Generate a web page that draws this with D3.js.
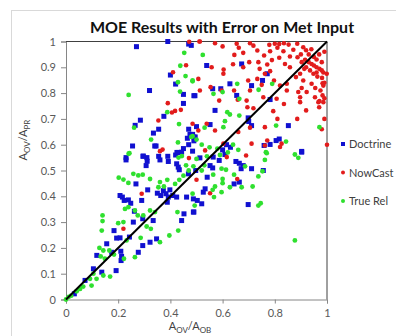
<!DOCTYPE html>
<html>
<head>
<meta charset="utf-8">
<script src="https://cdn.jsdelivr.net/npm/d3@7"></script>
<style>
  body { margin: 0; background: #fff; }
  svg { display: block; font-family: Lato, "Open Sans", sans-serif; }
</style>
</head>
<body>
<div id="chart"></div>
<script>
// ticks
var xTicks = [0, 0.2, 0.4, 0.6, 0.8, 1];
var yTicks = [0, 0.1, 0.2, 0.3, 0.4, 0.5, 0.6, 0.7, 0.8, 0.9, 1];
var seriesNames = ["Doctrine", "NowCast", "True Rel"];

// Doctrine (blue squares) [A_OV/A_OB, A_OV/A_PR]
var doctrine = [
  [0.27,0.98],[0.39,1.0],[0.32,0.81],[0.47,0.99],[0.48,0.985],[0.40,0.87],[0.42,0.835],[0.45,0.795],
  [0.49,0.79],[0.45,0.76],[0.375,0.71],[0.285,0.695],[0.265,0.675],[0.355,0.66],[0.335,0.645],[0.47,0.66],
  [0.50,0.67],[0.475,0.64],[0.485,0.64],[0.495,0.63],[0.465,0.625],[0.49,0.615],[0.255,0.595],[0.34,0.595],
  [0.345,0.595],[0.47,0.60],[0.43,0.57],[0.45,0.585],[0.23,0.55],[0.295,0.555],[0.31,0.55],[0.355,0.555],
  [0.39,0.555],[0.42,0.56],[0.485,0.575],
  [0.673,0.913],[0.539,0.907],[0.771,0.875],[0.753,0.849],[0.711,0.829],[0.628,0.836],[0.593,0.817],
  [0.562,0.817],[0.494,0.79],[0.654,0.791],[0.782,0.775],[0.571,0.733],[0.698,0.704],[0.711,0.674],
  [0.70,0.69],[0.552,0.678],[0.852,0.674],[0.817,0.622],[0.805,0.616],[0.782,0.601],[0.759,0.597],
  [0.903,0.574],[0.63,0.59],[0.615,0.60],[0.60,0.58],[0.49,0.63],
  [0.23,0.541],[0.296,0.556],[0.311,0.536],[0.307,0.519],[0.36,0.541],[0.392,0.535],[0.424,0.526],
  [0.43,0.513],[0.434,0.503],[0.469,0.487],[0.497,0.50],[0.425,0.57],[0.443,0.571],[0.268,0.448],
  [0.313,0.425],[0.207,0.403],[0.216,0.397],[0.223,0.384],[0.239,0.386],[0.248,0.373],[0.262,0.342],
  [0.29,0.384],[0.35,0.412],[0.363,0.403],[0.373,0.422],[0.383,0.41],[0.392,0.397],[0.398,0.425],
  [0.409,0.403],[0.424,0.397],[0.388,0.377],[0.462,0.397],[0.488,0.39],[0.258,0.30],[0.294,0.313],
  [0.334,0.306],[0.443,0.306],[0.452,0.332],[0.488,0.339],[0.184,0.267],[0.207,0.239],[0.194,0.238],
  [0.243,0.242],[0.347,0.235],[0.294,0.209],[0.277,0.183],[0.322,0.222],[0.156,0.216],[0.175,0.183],
  [0.118,0.171],[0.21,0.187],[0.213,0.167],[0.211,0.151],[0.105,0.119],[0.192,0.112],[0.137,0.106],
  [0.073,0.074],[0.032,0.022],
  [0.651,0.535],[0.664,0.528],[0.671,0.507],[0.609,0.562],[0.564,0.552],[0.513,0.549],[0.552,0.519],
  [0.562,0.51],[0.587,0.539],[0.711,0.507],[0.756,0.50],[0.679,0.519],[0.644,0.448],[0.664,0.455],
  [0.541,0.474],[0.533,0.429],[0.526,0.416],[0.503,0.384],[0.52,0.371],[0.49,0.339],[0.698,0.368],
  [0.903,0.571]
];

// NowCast (red circles)
var nowcast = [
  [0.472,0.999],[0.511,1.0],[0.46,0.908],[0.41,0.881],[0.39,0.761],[0.44,0.735],[0.418,0.731],[0.406,0.725],
  [0.354,0.694],[0.37,0.581],[0.471,0.548],
  [0.513,1.0],[0.571,0.993],[0.60,0.981],[0.654,0.991],[0.662,0.976],[0.705,0.993],[0.718,0.984],
  [0.733,0.965],[0.679,0.956],[0.645,0.948],[0.64,0.912],[0.779,0.987],[0.80,0.991],[0.817,0.99],
  [0.835,0.993],[0.853,0.988],[0.886,0.991],[0.909,0.978],[0.92,0.966],[0.81,0.976],[0.782,0.962],
  [0.759,0.946],[0.833,0.962],[0.871,0.968],[0.858,0.942],[0.887,0.939],[0.817,0.937],[0.789,0.928],
  [0.737,0.92],[0.702,0.92],[0.771,0.911],[0.679,0.90],[0.742,0.894],[0.839,0.913],[0.858,0.90],
  [0.903,0.92],[0.916,0.929],[0.93,0.92],[0.941,0.913],[0.95,0.907],[0.96,0.90],[0.971,0.894],
  [0.98,0.888],[0.986,0.88],[0.999,0.875],[0.935,0.888],[0.948,0.875],[0.963,0.864],[0.981,0.859],
  [0.913,0.894],[0.897,0.875],[0.881,0.862],[0.983,0.838],[0.782,0.885],[0.762,0.875],[0.733,0.855],
  [0.698,0.849],[0.75,0.832],[0.797,0.849],[0.82,0.829],[0.846,0.81],[0.903,0.82],[0.756,0.784],
  [0.705,0.81],[0.692,0.771],[0.718,0.741],[0.807,0.778],[0.835,0.758],[0.92,0.733],[0.967,0.765],
  [0.886,0.70],[0.81,0.70],[0.794,0.73],[0.644,0.81],[0.658,0.774],[0.695,0.745],[0.596,0.81],
  [0.554,0.823],[0.587,0.771],[0.513,0.81],[0.507,0.855],[0.603,0.875],[0.558,0.90],[0.507,0.655],
  [0.485,0.681],[0.539,0.681],[0.571,0.655],[0.66,0.649],[0.705,0.666],[0.762,0.668],[0.826,0.604],
  [0.82,0.591],[0.762,0.597],[0.771,0.616],[0.711,0.604],[0.603,0.604],[0.533,0.578],[0.616,0.552],
  [0.897,0.784],[0.897,0.765],
  [0.986,0.765],[0.971,0.769],[0.983,0.791],[0.954,0.784],[0.922,0.804],[0.89,0.804],[0.941,0.836],
  [0.986,0.829],[0.909,0.849],[0.846,0.836],
  [0.95,0.94],[0.96,0.93],[0.97,0.95],[0.93,0.95],[0.98,0.92],[0.99,0.96],[0.94,0.97],[0.90,0.95],
  [0.92,0.90],[0.96,0.88],[0.99,0.84],[0.975,0.81],[0.99,0.78],[0.955,0.82],[0.97,0.745],[0.99,0.70],
  [0.98,0.66],[1.0,0.6],
  [0.29,0.41],[0.22,0.274],[0.50,0.464],[0.36,0.575],[0.552,0.412],[0.656,0.467],[0.69,0.558],[0.604,0.891]
];

// True Rel (green circles)
var trueRel = [
  [0.453,0.956],[0.438,0.906],[0.458,0.866],[0.485,0.846],[0.429,0.842],[0.24,0.793],[0.437,0.806],
  [0.388,0.726],[0.433,0.68],[0.261,0.666],[0.485,0.633],[0.326,0.62],[0.429,0.609],[0.24,0.565],
  [0.431,0.55],[0.444,0.556],
  [0.524,0.948],[0.485,0.849],[0.79,0.836],[0.656,0.836],[0.60,0.804],[0.565,0.797],[0.738,0.813],
  [0.664,0.778],[0.618,0.726],[0.628,0.717],[0.664,0.713],[0.609,0.691],[0.603,0.668],[0.531,0.666],
  [0.805,0.674],[0.971,0.668],[0.843,0.612],[0.877,0.562],[0.766,0.571],[0.48,0.63],[0.50,0.62],
  [0.52,0.60],[0.55,0.59],[0.58,0.585],[0.64,0.60],[0.66,0.58],
  [0.243,0.567],[0.202,0.472],[0.22,0.465],[0.239,0.452],[0.258,0.487],[0.277,0.481],[0.294,0.484],
  [0.322,0.467],[0.36,0.455],[0.375,0.438],[0.354,0.435],[0.418,0.448],[0.434,0.464],[0.388,0.464],
  [0.239,0.358],[0.226,0.351],[0.264,0.345],[0.275,0.326],[0.296,0.326],[0.322,0.345],[0.341,0.339],
  [0.14,0.326],[0.14,0.304],[0.137,0.267],[0.20,0.296],[0.22,0.30],[0.309,0.283],[0.325,0.274],
  [0.286,0.239],[0.36,0.222],[0.396,0.248],[0.43,0.267],[0.427,0.339],[0.128,0.20],[0.143,0.19],
  [0.133,0.167],[0.149,0.158],[0.166,0.19],[0.184,0.174],[0.222,0.158],[0.264,0.164],[0.232,0.229],
  [0.105,0.10],[0.092,0.08],[0.117,0.08],[0.143,0.093],[0.169,0.089],[0.066,0.05],[0.054,0.041],
  [0.041,0.032],[0.098,0.054],[0.0,0.0],[0.01,0.01],[0.02,0.015],
  [0.488,0.516],[0.596,0.507],[0.613,0.503],[0.644,0.484],[0.564,0.484],[0.686,0.516],[0.60,0.467],
  [0.60,0.451],[0.737,0.477],[0.753,0.497],[0.762,0.541],[0.769,0.567],[0.89,0.549],[0.715,0.438],
  [0.673,0.435],[0.628,0.435],[0.571,0.438],[0.562,0.425],[0.596,0.416],[0.485,0.41],[0.567,0.397],
  [0.493,0.364],[0.737,0.364],[0.746,0.373],[0.877,0.229],
  [0.62,0.57],[0.59,0.56],[0.54,0.555],[0.50,0.545],[0.46,0.52],[0.47,0.50],[0.45,0.48],[0.52,0.50],[0.53,0.52]
];

var colors = { "Doctrine": "#1010d0", "NowCast": "#e21c1c", "True Rel": "#2fe02f" };

var W = 396, H = 336;
var margin = { top: 41.5, left: 66, right: 69, bottom: 36.5 };
var width = W - margin.left - margin.right,
    height = H - margin.top - margin.bottom;

var svg = d3.select("#chart").append("svg")
    .attr("width", W).attr("height", H);

// outer chart border
svg.append("rect")
    .attr("x", 11.5).attr("y", 10.5).attr("width", 420).attr("height", 400)
    .attr("fill", "#fff").attr("stroke", "#d9d9d9");

svg.append("text")
    .attr("x", 222).attr("y", 33)
    .attr("text-anchor", "middle")
    .style("font-weight", "bold").style("font-size", "16px").style("fill", "#111")
    .text("MOE Results with Error on Met Input");

var g = svg.append("g").attr("transform", "translate(" + margin.left + "," + margin.top + ")");

var x = d3.scaleLinear().domain([0, 1]).range([0, width]);
var y = d3.scaleLinear().domain([0, 1]).range([height, 0]);

// x axis
var xAxis = g.append("g")
    .attr("transform", "translate(0," + height + ")")
    .call(d3.axisBottom(x).tickValues(xTicks).tickSize(4).tickPadding(6).tickFormat(d3.format("")));
// y axis
var yAxis = g.append("g")
    .call(d3.axisLeft(y).tickValues(yTicks).tickSize(5).tickPadding(5).tickFormat(d3.format("")));

[xAxis, yAxis].forEach(function (a) {
    a.select(".domain").attr("stroke", "#868686");
    a.selectAll(".tick line").attr("stroke", "#868686");
    a.selectAll(".tick text").style("font-size", "11px").style("fill", "#595959")
        .style("font-family", "Lato, sans-serif");
});

// plot frame (top / right)
g.append("path")
    .attr("d", "M0,0H" + width + "V" + height)
    .attr("fill", "none").attr("stroke", "#404040");

// points
g.append("g").selectAll("rect")
    .data(doctrine).enter().append("rect")
    .attr("x", function (d) { return x(d[0]) - 2.5; })
    .attr("y", function (d) { return y(d[1]) - 2.5; })
    .attr("width", 5).attr("height", 5)
    .attr("fill", colors["Doctrine"]);

g.append("g").selectAll("circle")
    .data(nowcast).enter().append("circle")
    .attr("cx", function (d) { return x(d[0]); })
    .attr("cy", function (d) { return y(d[1]); })
    .attr("r", 2.3)
    .attr("fill", colors["NowCast"]);

g.append("g").selectAll("circle")
    .data(trueRel).enter().append("circle")
    .attr("cx", function (d) { return x(d[0]); })
    .attr("cy", function (d) { return y(d[1]); })
    .attr("r", 2.4)
    .attr("fill", colors["True Rel"]);

// 1:1 line
g.append("line")
    .attr("x1", x(0)).attr("y1", y(0)).attr("x2", x(1)).attr("y2", y(1))
    .attr("stroke", "#000").attr("stroke-width", 2);

// axis titles
var xt = svg.append("text")
    .attr("x", 190).attr("y", 330)
    .attr("text-anchor", "middle")
    .style("font-size", "11px").style("fill", "#404040");
xt.append("tspan").text("A");
xt.append("tspan").attr("dy", 2.5).style("font-size", "8px").text("OV");
xt.append("tspan").attr("dy", -2.5).text("/A");
xt.append("tspan").attr("dy", 2.5).style("font-size", "8px").text("OB");

var yt = svg.append("text")
    .attr("transform", "translate(27,140) rotate(-90)")
    .attr("text-anchor", "middle")
    .style("font-size", "11px").style("fill", "#404040");
yt.append("tspan").text("A");
yt.append("tspan").attr("dy", 2.5).style("font-size", "8px").text("OV");
yt.append("tspan").attr("dy", -2.5).text("/A");
yt.append("tspan").attr("dy", 2.5).style("font-size", "8px").text("PR");

// legend
var legend = svg.append("g");
seriesNames.forEach(function (name, i) {
    var ly = 144 + i * 28.5;
    if (name === "Doctrine") {
        legend.append("rect").attr("x", 341).attr("y", ly - 2).attr("width", 4).attr("height", 4)
            .attr("fill", colors[name]);
    } else {
        legend.append("circle").attr("cx", 343).attr("cy", ly).attr("r", 2)
            .attr("fill", colors[name]);
    }
    legend.append("text").attr("x", 349).attr("y", ly + 4)
        .style("font-size", "11px").style("fill", "#404040")
        .text(name);
});
</script>
</body>
</html>
